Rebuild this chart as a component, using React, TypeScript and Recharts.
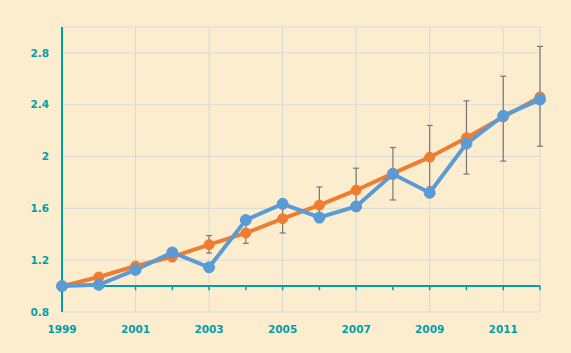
import React from "react";
import { LineChart, Line, XAxis, YAxis, CartesianGrid, ErrorBar, ReferenceLine } from "recharts";

const years = [1999, 2000, 2001, 2002, 2003, 2004, 2005, 2006, 2007, 2008, 2009, 2010, 2011, 2012];
const orangeSeries = [1.0, 1.07, 1.155, 1.225, 1.32, 1.41, 1.52, 1.625, 1.74, 1.87, 1.995, 2.145, 2.305, 2.46];
const blueSeries = [1.0, 1.01, 1.125, 1.26, 1.145, 1.51, 1.635, 1.53, 1.615, 1.865, 1.72, 2.1, 2.315, 2.44];
const errLow = [0, 0.01, 0.025, 0.035, 0.065, 0.08, 0.11, 0.135, 0.16, 0.205, 0.23, 0.28, 0.34, 0.38];
const errHigh = [0, 0.01, 0.025, 0.035, 0.07, 0.08, 0.11, 0.14, 0.17, 0.2, 0.245, 0.285, 0.315, 0.39];
const xTickLabels = [1999, 2001, 2003, 2005, 2007, 2009, 2011];
const yTicks = [0.8, 1.2, 1.6, 2, 2.4, 2.8];

const data = years.map((year, i) => ({
  year,
  orange: orangeSeries[i],
  blue: blueSeries[i],
  err: [errLow[i], errHigh[i]],
}));

const TEAL = "#00A0AA";
const ORANGE = "#EE7D31";
const BLUE = "#5B9BD5";
const GRID = "#D9D9D9";
const BG = "#FDEDCF";
const FONT = "'DejaVu Sans', sans-serif";

export default function App() {
  return (
    <div style={{ position: "absolute", left: 0, top: 0, width: 571, height: 353, background: BG }}>
      <LineChart
        width={571}
        height={353}
        data={data}
        margin={{ top: 27, right: 31, bottom: 11, left: 0 }}
      >
        <CartesianGrid stroke={GRID} strokeWidth={1} />
        <XAxis
          dataKey="year"
          type="number"
          domain={[1999, 2012]}
          ticks={xTickLabels}
          axisLine={false}
          tickLine={false}
          tickMargin={8}
          height={30}
          tick={{ fill: TEAL, fontSize: 10.5, fontWeight: "bold", fontFamily: FONT }}
        />
        <YAxis
          type="number"
          domain={[0.8, 3.0]}
          ticks={yTicks}
          width={62}
          axisLine={{ stroke: TEAL, strokeWidth: 2 }}
          tickLine={false}
          tickMargin={7}
          tick={{ fill: TEAL, fontSize: 10.5, fontWeight: "bold", fontFamily: FONT }}
        />
        <ReferenceLine y={1} stroke={TEAL} strokeWidth={2} />
        {years.map((yr) => (
          <ReferenceLine
            key={yr}
            segment={[
              { x: yr, y: 1 },
              { x: yr, y: 0.968 },
            ]}
            stroke={TEAL}
            strokeWidth={1.5}
          />
        ))}
        <Line
          dataKey="orange"
          stroke={ORANGE}
          strokeWidth={4}
          dot={{ r: 5, fill: ORANGE, stroke: ORANGE, strokeWidth: 1 }}
          isAnimationActive={false}
        >
          <ErrorBar dataKey="err" stroke="#777777" strokeWidth={1.2} width={3} direction="y" />
        </Line>
        <Line
          dataKey="blue"
          stroke={BLUE}
          strokeWidth={4}
          dot={{ r: 5.5, fill: BLUE, stroke: BLUE, strokeWidth: 1 }}
          isAnimationActive={false}
        />
      </LineChart>
    </div>
  );
}
